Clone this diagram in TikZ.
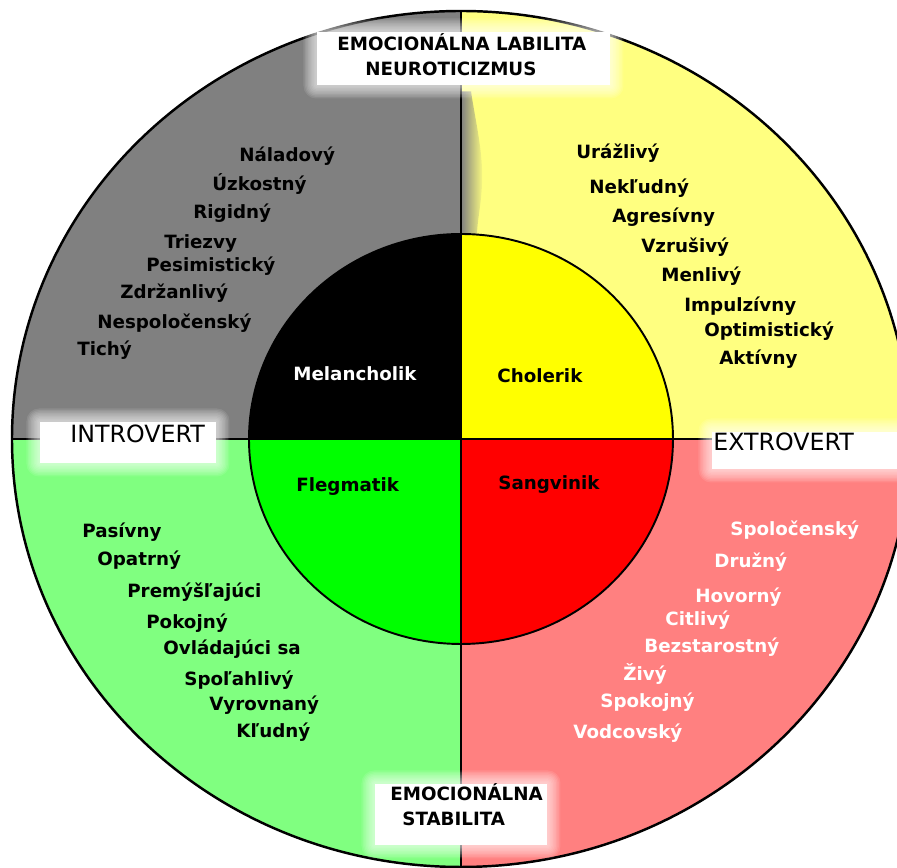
\documentclass[tikz,border=0pt]{standalone}
\usepackage{fontspec}
\setmainfont{DejaVu Sans}
\usetikzlibrary{fadings}
\definecolor{quadgray}{RGB}{128,128,128}
\definecolor{lightyellow}{RGB}{255,255,128}
\definecolor{lightgreen}{RGB}{128,255,128}
\definecolor{lightred}{RGB}{255,128,128}
\definecolor{coreyellow}{RGB}{255,255,0}
\definecolor{coregreen}{RGB}{0,255,0}
\definecolor{corered}{RGB}{255,0,0}
% white label box with a soft edge: x1 y1 x2 y2
\newcommand{\glowbox}[4]{%
  \foreach \g in {1,...,9}
    \fill[white, opacity=0.1, rounded corners=\g*0.8pt] ({#1-\g*0.03},{#2-\g*0.03}) rectangle ({#3+\g*0.03},{#4+\g*0.03});
  \fill[white] (#1,#2) rectangle (#3,#4);
}
\begin{document}
\begin{tikzpicture}[
    trait/.style={font={\bfseries\fontsize{10.4}{12}\selectfont}, anchor=west, inner sep=0pt, text height=1.6ex, text depth=.4ex},
    side/.style={font={\fontsize{13.5}{16}\selectfont}, anchor=west, inner sep=0pt, text height=1.6ex, text depth=.4ex}
  ]
  \useasboundingbox (-9.22,-8.58) rectangle (8.72,8.78);
  \clip (-9.22,-8.58) rectangle (8.72,8.78);
  % Outer quarters
  \fill[quadgray] (0,0) -- (0,8.56) arc[start angle=90, end angle=180, x radius=8.98, y radius=8.56] -- cycle;
  \fill[lightyellow] (0,0) -- (8.98,0) arc[start angle=0, end angle=90, x radius=8.98, y radius=8.56] -- cycle;
  \fill[lightgreen] (0,0) -- (-8.98,0) arc[start angle=180, end angle=270, x radius=8.98, y radius=8.56] -- cycle;
  \fill[lightred] (0,0) -- (0,-8.56) arc[start angle=270, end angle=360, x radius=8.98, y radius=8.56] -- cycle;
  % gray running over into the yellow
  \fill[quadgray, path fading=east] (0,3.9) -- (0,6.95) -- (0.2,6.95) .. controls (0.3,6.3) and (0.45,5.7) .. (0.42,5.1)
    .. controls (0.4,4.6) and (0.3,4.3) .. (0.32,3.9) -- cycle;
  % Inner quarters
  \fill[black] (0,0) -- (0,4.1) arc[start angle=90, end angle=180, x radius=4.24, y radius=4.1] -- cycle;
  \fill[coreyellow] (0,0) -- (4.24,0) arc[start angle=0, end angle=90, x radius=4.24, y radius=4.1] -- cycle;
  \fill[coregreen] (0,0) -- (-4.24,0) arc[start angle=180, end angle=270, x radius=4.24, y radius=4.1] -- cycle;
  \fill[corered] (0,0) -- (0,-4.1) arc[start angle=270, end angle=360, x radius=4.24, y radius=4.1] -- cycle;
  % Rings and axes
  \draw[line width=1.4pt] (0,0) ellipse [x radius=8.98, y radius=8.56];
  \draw[line width=1.1pt] (0,0) ellipse [x radius=4.24, y radius=4.1];
  \draw[line width=1pt] (0,8.56) -- (0,-8.56);
  \draw[line width=1pt] (-8.98,0) -- (8.98,0);
  % Axis labels
  \glowbox{-2.88}{7.08}{2.98}{8.14}
  \node[trait] (labil) at (-2.48,7.88) {EMOCIONÁLNA LABILITA};
  \node[trait] (neuro) at (-1.92,7.38) {NEUROTICIZMUS};
  \glowbox{-1.72}{-8.12}{1.72}{-6.90}
  \node[trait] (emoc) at (-1.42,-7.12) {EMOCIONÁLNA};
  \node[trait] (stab) at (-1.18,-7.62) {STABILITA};
  \glowbox{-8.42}{-0.48}{-4.90}{0.34}
  \node[side] (intro) at (-7.82,0.04) {INTROVERT};
  \glowbox{5.02}{-0.60}{9.2}{0.14}
  \node[side] (extro) at (5.04,-0.12) {EXTROVERT};
  % Temperaments
  \node[trait, text=white] (melan) at (-3.36,1.28) {Melancholik};
  \node[trait] (chol) at (0.72,1.24) {Cholerik};
  \node[trait] (fleg) at (-3.30,-0.94) {Flegmatik};
  \node[trait] (sang) at (0.74,-0.90) {Sangvinik};
  % Upper left traits
  \node[trait] (naladovy) at (-4.44,5.66) {Náladový};
  \node[trait] (uzkostny) at (-4.98,5.08) {Úzkostný};
  \node[trait] (rigidny) at (-5.36,4.52) {Rigidný};
  \node[trait] (triezvy) at (-5.94,3.92) {Triezvy};
  \node[trait] (pesim) at (-6.30,3.46) {Pesimistický};
  \node[trait] (zdrzan) at (-6.82,2.92) {Zdržanlivý};
  \node[trait] (nespol) at (-7.28,2.32) {Nespoločenský};
  \node[trait] (tichy) at (-7.68,1.78) {Tichý};
  % Upper right traits
  \node[trait] (urazlivy) at (2.30,5.72) {Urážlivý};
  \node[trait] (nekludny) at (2.56,5.02) {Nekľudný};
  \node[trait] (agresivny) at (3.02,4.44) {Agresívny};
  \node[trait] (vzrusivy) at (3.60,3.84) {Vzrušivý};
  \node[trait] (menlivy) at (4.00,3.26) {Menlivý};
  \node[trait] (impulz) at (4.46,2.66) {Impulzívny};
  \node[trait] (optim) at (4.86,2.16) {Optimistický};
  \node[trait] (aktivny) at (5.16,1.60) {Aktívny};
  % Lower left traits
  \node[trait] (pasivny) at (-7.58,-1.86) {Pasívny};
  \node[trait] (opatrny) at (-7.28,-2.42) {Opatrný};
  \node[trait] (premys) at (-6.68,-3.06) {Premýšľajúci};
  \node[trait] (pokojny) at (-6.30,-3.68) {Pokojný};
  \node[trait] (ovlad) at (-5.96,-4.20) {Ovládajúci sa};
  \node[trait] (spolah) at (-5.54,-4.82) {Spoľahlivý};
  \node[trait] (vyrovn) at (-5.04,-5.32) {Vyrovnaný};
  \node[trait] (kludny) at (-4.50,-5.86) {Kľudný};
  % Lower right traits
  \node[trait, text=white] (spolocen) at (5.38,-1.82) {Spoločenský};
  \node[trait, text=white] (druzny) at (5.06,-2.46) {Družný};
  \node[trait, text=white] (hovorny) at (4.68,-3.16) {Hovorný};
  \node[trait, text=white] (citlivy) at (4.08,-3.62) {Citlivý};
  \node[trait, text=white] (bezstar) at (3.66,-4.16) {Bezstarostný};
  \node[trait, text=white] (zivy) at (3.24,-4.72) {Živý};
  \node[trait, text=white] (spokojny) at (2.78,-5.26) {Spokojný};
  \node[trait, text=white] (vodcov) at (2.24,-5.88) {Vodcovský};
\end{tikzpicture}
\end{document}
